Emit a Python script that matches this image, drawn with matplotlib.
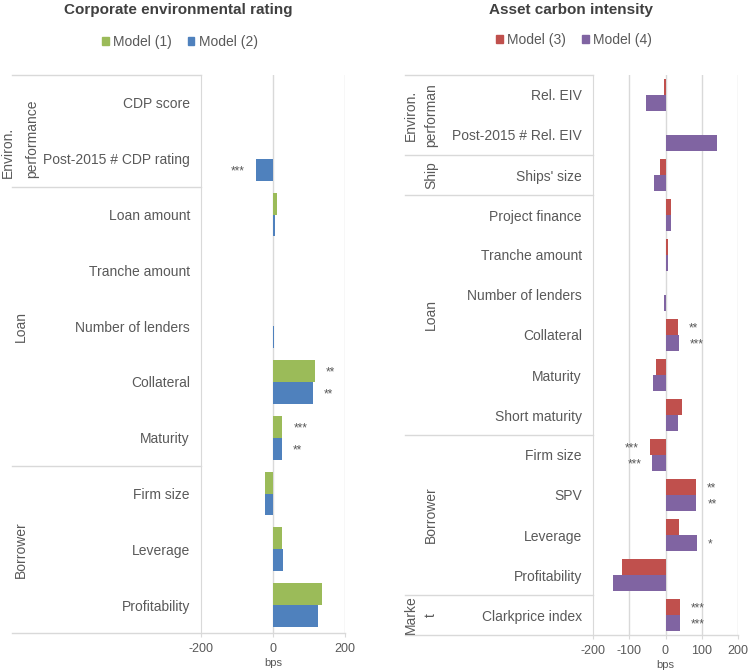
import numpy as np
import matplotlib
matplotlib.use("Agg")
import matplotlib.pyplot as plt
from matplotlib.patches import Patch

plt.rcParams['font.family'] = ['Liberation Sans', 'DejaVu Sans']
plt.rcParams['axes.unicode_minus'] = False

# ---- left panel data: corporate environmental rating ----
left_cats = ["CDP score", "Post-2015 # CDP rating", "Loan amount", "Tranche amount",
             "Number of lenders", "Collateral", "Maturity", "Firm size", "Leverage",
             "Profitability"]
model1 = [1, 0, 10, 1, 0, 116, 26, -23, 26, 137]
model2 = [0.5, -47, 5, 1, 3, 111, 24, -21, 29, 126]
stars1 = ["", "", "", "", "", "**", "***", "", "", ""]
stars2 = ["", "***", "", "", "", "**", "**", "", "", ""]
left_groups = [("Environ.\nperformance", 0, 1), ("Loan", 2, 6), ("Borrower", 7, 9)]

# ---- right panel data: asset carbon intensity ----
right_cats = ["Rel. EIV", "Post-2015 # Rel. EIV", "Ships' size", "Project finance",
              "Tranche amount", "Number of lenders", "Collateral", "Maturity",
              "Short maturity", "Firm size", "SPV", "Leverage", "Profitability",
              "Clarkprice index"]
model3 = [-3, 0, -16, 14, 8, 0, 34, -27, 46, -43, 84, 37, -119, 40]
model4 = [-53, 141, -32, 15, 6, -3, 37, -34, 35, -36, 85, 87, -144, 40]
stars3 = ["", "", "", "", "", "", "**", "", "", "***", "**", "", "", "***"]
stars4 = ["", "", "", "", "", "", "***", "", "", "***", "**", "*", "", "***"]
right_groups = [("Environ.\nperforman", 0, 1), ("Ship", 2, 2), ("Loan", 3, 8),
                ("Borrower", 9, 12), ("Marke\nt", 13, 13)]

W, H = 749, 671
TXT = "#595959"
GRID = "#D9D9D9"

fig = plt.figure(figsize=(W / 100, H / 100), dpi=100)


def panel(x0, x1, y0, y1, table_x, cats, va, vb, sa, sb, ca, cb, groups,
          ticks, grid, gx1, gx2, lsp, malign, mdy, height):
    ax = fig.add_axes([x0 / W, 1 - y1 / H, (x1 - x0) / W, (y1 - y0) / H])
    n = len(cats)
    y = np.arange(n)
    ax.barh(y - height / 2, va, height=height, color=ca)
    ax.barh(y + height / 2, vb, height=height, color=cb)
    ax.set_xlim(-200, 200)
    ax.set_ylim(n - 0.5, -0.5)
    for s in ax.spines.values():
        s.set_visible(False)
    ax.spines['left'].set_visible(True)
    ax.spines['left'].set_color(GRID)
    for g in grid:
        ax.axvline(g, color=GRID, lw=1, zorder=0)
    ax.set_xticks(ticks)
    ax.tick_params(axis='x', length=3, color=GRID, labelsize=9, labelcolor=TXT, pad=4)
    ax.set_yticks(y)
    ax.set_yticklabels(cats)
    ax.tick_params(axis='y', length=0, labelsize=10, labelcolor=TXT, pad=8)
    ax.set_xlabel("bps", fontsize=8, color=TXT, labelpad=2)

    # table lines of the category axis
    px = (x1 - x0)
    tx = (table_x - x0) / px
    tr = ax.get_yaxis_transform()
    ax.plot([tx, 0], [-0.5, -0.5], color=GRID, lw=1, transform=tr, clip_on=False)
    ax.plot([tx, 1], [n - 0.5, n - 0.5], color=GRID, lw=1, transform=tr, clip_on=False)
    for name, a, b in groups:
        if a > 0:
            ax.plot([tx, 0], [a - 0.5, a - 0.5], color=GRID, lw=1, transform=tr,
                    clip_on=False)
        two = "\n" in name
        gx = gx2 if two else gx1
        ax.text((gx - x0) / px, (a + b) / 2 + (mdy if two else 0), name, rotation=90,
                ha='center', va='center', fontsize=10, color=TXT, transform=tr,
                multialignment=malign, linespacing=lsp)

    # significance stars
    for vals, st, off in ((va, sa, -height / 2), (vb, sb, height / 2)):
        for i, (v, s) in enumerate(zip(vals, st)):
            if not s:
                continue
            sign = 1 if v >= 0 else -1
            ax.annotate(s, (v, i + off), xytext=(8 * sign, -1),
                        textcoords='offset points', ha='left' if sign > 0 else 'right',
                        va='center', fontsize=8.5, color=TXT)
    return ax


panel(201, 345, 75, 633, 12, left_cats, model1, model2, stars1, stars2,
      "#9BBB59", "#4F81BD", left_groups, [-200, 0, 200], [0, 200], 21, 20, 1.9,
      'left', 0.15, 0.394)
panel(593, 738, 75, 635, 405, right_cats, model3, model4, stars3, stars4,
      "#C0504D", "#8064A2", right_groups, [-200, -100, 0, 100, 200],
      [-100, 0, 100, 200], 431, 421, 1.6, 'center', 0, 0.4)

fig.text(178 / W, 1 - 10 / H, "Corporate environmental rating", ha='center',
         va='center', fontsize=11, fontweight='bold', color="#404040")
fig.text(571 / W, 1 - 10 / H, "Asset carbon intensity", ha='center',
         va='center', fontsize=11, fontweight='bold', color="#404040")

for labels, colors, cx, cy in ((["Model (1)", "Model (2)"], ["#9BBB59", "#4F81BD"], 180, 42),
                               (["Model (3)", "Model (4)"], ["#C0504D", "#8064A2"], 574, 40)):
    handles = [Patch(color=c, label=l) for c, l in zip(colors, labels)]
    leg = fig.legend(handles=handles, loc='center', bbox_to_anchor=(cx / W, 1 - cy / H),
                     ncol=2, frameon=False, fontsize=10, handlelength=0.5,
                     handleheight=0.5, handletextpad=0.3, columnspacing=1.1)
    for t in leg.get_texts():
        t.set_color(TXT)

fig.savefig("out.png", dpi=100)
